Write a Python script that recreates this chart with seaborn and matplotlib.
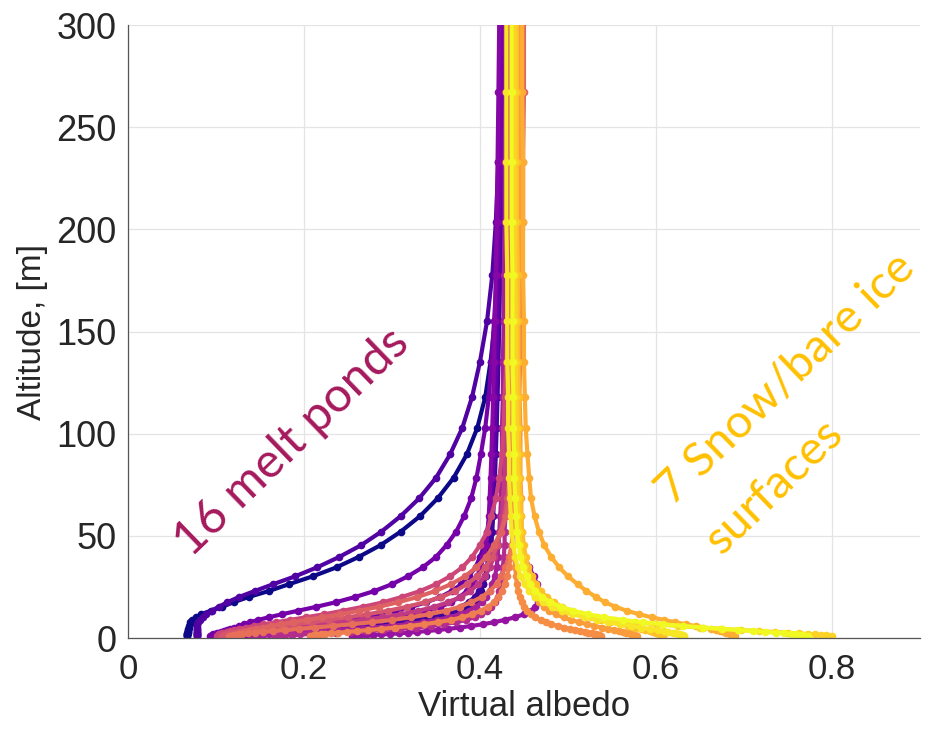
import numpy as np
import pandas as pd
import matplotlib
matplotlib.use("Agg")
import matplotlib.pyplot as plt
import seaborn as sns

# Sensor altitudes (m), shared by every profile
altitude_m = [1.00, 1.15, 1.31, 1.51, 1.73, 1.98, 2.27, 2.60, 2.98, 3.41,
              3.91, 4.48, 5.13, 5.88, 6.74, 7.73, 8.85, 10.15, 11.63, 13.33,
              15.27, 17.50, 20.06, 22.99, 26.34, 30.19, 34.60, 39.65, 45.44, 52.07,
              59.68, 68.39, 78.37, 89.82, 102.9, 117.9, 135.2, 154.9, 177.5, 203.4,
              233.1, 267.2, 306.2]

# Virtual albedo profiles over melt ponds
pond_01 = [0.067, 0.067, 0.067, 0.067, 0.067, 0.067, 0.067, 0.068, 0.068, 0.068,
           0.068, 0.068, 0.069, 0.069, 0.070, 0.071, 0.073, 0.077, 0.083, 0.094,
           0.107, 0.120, 0.137, 0.160, 0.183, 0.210, 0.237, 0.262, 0.287, 0.310,
           0.332, 0.352, 0.370, 0.385, 0.397, 0.406, 0.412, 0.417, 0.421, 0.424,
           0.426, 0.428, 0.429]
pond_02 = [0.115, 0.119, 0.125, 0.132, 0.140, 0.151, 0.164, 0.179, 0.196, 0.215,
           0.235, 0.256, 0.278, 0.298, 0.317, 0.334, 0.349, 0.362, 0.373, 0.381,
           0.388, 0.394, 0.398, 0.401, 0.404, 0.406, 0.408, 0.409, 0.410, 0.411,
           0.412, 0.413, 0.414, 0.415, 0.416, 0.417, 0.418, 0.419, 0.420, 0.421,
           0.422, 0.423, 0.424]
pond_03 = [0.119, 0.121, 0.124, 0.129, 0.134, 0.141, 0.150, 0.160, 0.173, 0.188,
           0.204, 0.223, 0.243, 0.264, 0.285, 0.305, 0.324, 0.340, 0.355, 0.368,
           0.378, 0.387, 0.394, 0.399, 0.403, 0.407, 0.409, 0.411, 0.413, 0.414,
           0.415, 0.416, 0.417, 0.418, 0.419, 0.420, 0.421, 0.422, 0.423, 0.424,
           0.425, 0.426, 0.427]
pond_04 = [0.078, 0.078, 0.078, 0.078, 0.078, 0.078, 0.078, 0.078, 0.078, 0.078,
           0.078, 0.078, 0.078, 0.078, 0.079, 0.080, 0.082, 0.085, 0.089, 0.095,
           0.103, 0.113, 0.126, 0.144, 0.165, 0.190, 0.215, 0.240, 0.265, 0.288,
           0.310, 0.331, 0.350, 0.366, 0.380, 0.391, 0.400, 0.408, 0.414, 0.418,
           0.421, 0.423, 0.424]
pond_05 = [0.103, 0.104, 0.105, 0.107, 0.109, 0.112, 0.115, 0.120, 0.125, 0.132,
           0.141, 0.152, 0.165, 0.181, 0.198, 0.217, 0.238, 0.260, 0.282, 0.303,
           0.322, 0.339, 0.355, 0.368, 0.379, 0.387, 0.395, 0.400, 0.405, 0.408,
           0.411, 0.413, 0.415, 0.416, 0.417, 0.418, 0.419, 0.420, 0.421, 0.422,
           0.423, 0.424, 0.425]
pond_06 = [0.093, 0.094, 0.095, 0.096, 0.097, 0.099, 0.101, 0.103, 0.106, 0.109,
           0.112, 0.116, 0.121, 0.126, 0.132, 0.139, 0.148, 0.160, 0.175, 0.193,
           0.214, 0.236, 0.258, 0.280, 0.300, 0.318, 0.335, 0.350, 0.362, 0.373,
           0.382, 0.390, 0.396, 0.401, 0.406, 0.410, 0.413, 0.416, 0.419, 0.421,
           0.423, 0.424, 0.425]
pond_07 = [0.125, 0.126, 0.128, 0.131, 0.134, 0.138, 0.143, 0.150, 0.158, 0.168,
           0.180, 0.194, 0.210, 0.228, 0.247, 0.267, 0.288, 0.307, 0.325, 0.341,
           0.355, 0.367, 0.377, 0.385, 0.392, 0.397, 0.401, 0.404, 0.407, 0.409,
           0.410, 0.411, 0.412, 0.413, 0.414, 0.415, 0.416, 0.417, 0.418, 0.419,
           0.420, 0.421, 0.422]
pond_08 = [0.255, 0.262, 0.270, 0.279, 0.288, 0.298, 0.308, 0.318, 0.329, 0.340,
           0.352, 0.364, 0.377, 0.390, 0.403, 0.416, 0.428, 0.440, 0.450, 0.458,
           0.463, 0.466, 0.467, 0.467, 0.465, 0.461, 0.456, 0.451, 0.447, 0.444,
           0.442, 0.440, 0.439, 0.438, 0.437, 0.437, 0.436, 0.436, 0.436, 0.435,
           0.435, 0.435, 0.435]
pond_09 = [0.141, 0.144, 0.148, 0.153, 0.160, 0.168, 0.178, 0.190, 0.204, 0.220,
           0.238, 0.257, 0.277, 0.298, 0.317, 0.335, 0.351, 0.365, 0.377, 0.387,
           0.395, 0.402, 0.407, 0.411, 0.414, 0.417, 0.419, 0.420, 0.421, 0.422,
           0.423, 0.424, 0.424, 0.425, 0.425, 0.426, 0.426, 0.427, 0.427, 0.428,
           0.428, 0.429, 0.429]
pond_10 = [0.167, 0.172, 0.178, 0.186, 0.196, 0.207, 0.221, 0.236, 0.253, 0.271,
           0.290, 0.309, 0.327, 0.344, 0.359, 0.373, 0.384, 0.394, 0.401, 0.408,
           0.413, 0.417, 0.420, 0.422, 0.424, 0.425, 0.426, 0.427, 0.428, 0.428,
           0.429, 0.429, 0.430, 0.430, 0.430, 0.431, 0.431, 0.431, 0.432, 0.432,
           0.432, 0.433, 0.433]
pond_11 = [0.104, 0.105, 0.107, 0.109, 0.112, 0.116, 0.120, 0.126, 0.134, 0.143,
           0.154, 0.168, 0.184, 0.202, 0.222, 0.243, 0.266, 0.289, 0.310, 0.330,
           0.348, 0.364, 0.378, 0.389, 0.398, 0.406, 0.411, 0.416, 0.420, 0.423,
           0.425, 0.426, 0.428, 0.429, 0.430, 0.430, 0.431, 0.431, 0.432, 0.432,
           0.433, 0.433, 0.434]
pond_12 = [0.101, 0.102, 0.102, 0.103, 0.104, 0.105, 0.107, 0.109, 0.112, 0.116,
           0.120, 0.126, 0.134, 0.143, 0.154, 0.168, 0.184, 0.202, 0.223, 0.244,
           0.267, 0.290, 0.311, 0.332, 0.350, 0.366, 0.380, 0.391, 0.400, 0.408,
           0.413, 0.418, 0.422, 0.425, 0.427, 0.428, 0.430, 0.431, 0.432, 0.433,
           0.433, 0.434, 0.434]
pond_13 = [0.107, 0.108, 0.109, 0.110, 0.112, 0.114, 0.117, 0.121, 0.125, 0.131,
           0.139, 0.148, 0.160, 0.173, 0.189, 0.208, 0.228, 0.250, 0.272, 0.295,
           0.317, 0.337, 0.356, 0.372, 0.385, 0.397, 0.406, 0.414, 0.419, 0.424,
           0.428, 0.431, 0.433, 0.434, 0.436, 0.437, 0.437, 0.438, 0.438, 0.439,
           0.439, 0.440, 0.440]
pond_14 = [0.121, 0.122, 0.122, 0.123, 0.124, 0.125, 0.127, 0.129, 0.132, 0.136,
           0.140, 0.146, 0.153, 0.163, 0.174, 0.187, 0.203, 0.221, 0.241, 0.263,
           0.285, 0.307, 0.329, 0.349, 0.367, 0.383, 0.396, 0.407, 0.416, 0.424,
           0.430, 0.434, 0.438, 0.441, 0.443, 0.444, 0.446, 0.447, 0.448, 0.449,
           0.449, 0.450, 0.450]
pond_15 = [0.115, 0.117, 0.119, 0.122, 0.126, 0.130, 0.136, 0.144, 0.153, 0.165,
           0.178, 0.194, 0.213, 0.233, 0.255, 0.277, 0.300, 0.322, 0.342, 0.361,
           0.377, 0.390, 0.402, 0.411, 0.419, 0.424, 0.429, 0.433, 0.436, 0.438,
           0.439, 0.440, 0.441, 0.441, 0.442, 0.442, 0.443, 0.443, 0.444, 0.444,
           0.444, 0.445, 0.445]
pond_16 = [0.207, 0.209, 0.211, 0.215, 0.219, 0.224, 0.231, 0.239, 0.249, 0.260,
           0.273, 0.288, 0.304, 0.320, 0.336, 0.352, 0.367, 0.380, 0.391, 0.401,
           0.409, 0.416, 0.421, 0.425, 0.428, 0.431, 0.433, 0.435, 0.436, 0.437,
           0.437, 0.438, 0.438, 0.438, 0.439, 0.439, 0.439, 0.440, 0.440, 0.440,
           0.440, 0.440, 0.440]

# Virtual albedo profiles over snow / bare ice
snow_01 = [0.537, 0.536, 0.535, 0.534, 0.532, 0.530, 0.527, 0.523, 0.519, 0.514,
           0.508, 0.502, 0.496, 0.489, 0.481, 0.475, 0.469, 0.463, 0.458, 0.454,
           0.450, 0.448, 0.445, 0.443, 0.442, 0.441, 0.440, 0.439, 0.438, 0.438,
           0.437, 0.437, 0.437, 0.437, 0.437, 0.436, 0.436, 0.436, 0.436, 0.436,
           0.436, 0.436, 0.436]
snow_02 = [0.578, 0.577, 0.576, 0.575, 0.574, 0.572, 0.569, 0.566, 0.563, 0.558,
           0.552, 0.546, 0.539, 0.530, 0.522, 0.513, 0.503, 0.495, 0.486, 0.479,
           0.473, 0.467, 0.462, 0.459, 0.456, 0.453, 0.451, 0.450, 0.449, 0.448,
           0.447, 0.447, 0.446, 0.446, 0.446, 0.445, 0.445, 0.445, 0.445, 0.445,
           0.445, 0.445, 0.445]
snow_03 = [0.690, 0.689, 0.688, 0.687, 0.686, 0.684, 0.682, 0.680, 0.677, 0.673,
           0.668, 0.662, 0.654, 0.645, 0.634, 0.622, 0.609, 0.595, 0.581, 0.567,
           0.554, 0.542, 0.532, 0.521, 0.511, 0.500, 0.490, 0.481, 0.473, 0.467,
           0.462, 0.458, 0.456, 0.454, 0.452, 0.451, 0.450, 0.450, 0.449, 0.449,
           0.449, 0.448, 0.448]
snow_04 = [0.608, 0.608, 0.607, 0.606, 0.605, 0.604, 0.602, 0.600, 0.597, 0.593,
           0.588, 0.583, 0.576, 0.568, 0.559, 0.548, 0.537, 0.526, 0.515, 0.504,
           0.493, 0.484, 0.476, 0.469, 0.464, 0.459, 0.455, 0.452, 0.450, 0.448,
           0.447, 0.446, 0.445, 0.445, 0.444, 0.444, 0.443, 0.443, 0.443, 0.442,
           0.442, 0.442, 0.442]
snow_05 = [0.800, 0.796, 0.793, 0.787, 0.781, 0.773, 0.762, 0.750, 0.735, 0.717,
           0.697, 0.674, 0.650, 0.625, 0.600, 0.576, 0.553, 0.533, 0.515, 0.500,
           0.488, 0.478, 0.469, 0.463, 0.458, 0.454, 0.450, 0.448, 0.446, 0.445,
           0.444, 0.443, 0.443, 0.442, 0.442, 0.441, 0.441, 0.441, 0.440, 0.440,
           0.440, 0.440, 0.440]
snow_06 = [0.632, 0.632, 0.631, 0.629, 0.627, 0.625, 0.622, 0.619, 0.614, 0.609,
           0.602, 0.593, 0.583, 0.572, 0.560, 0.546, 0.533, 0.519, 0.505, 0.493,
           0.482, 0.472, 0.463, 0.456, 0.451, 0.446, 0.443, 0.440, 0.438, 0.436,
           0.435, 0.434, 0.433, 0.433, 0.432, 0.432, 0.431, 0.431, 0.431, 0.430,
           0.430, 0.430, 0.430]
snow_07 = [0.773, 0.770, 0.767, 0.764, 0.759, 0.753, 0.745, 0.736, 0.724, 0.710,
           0.693, 0.675, 0.654, 0.631, 0.608, 0.585, 0.562, 0.541, 0.523, 0.506,
           0.492, 0.480, 0.471, 0.463, 0.457, 0.453, 0.449, 0.446, 0.444, 0.442,
           0.441, 0.440, 0.439, 0.439, 0.438, 0.438, 0.437, 0.437, 0.437, 0.436,
           0.436, 0.436, 0.436]

ponds = [pond_01, pond_02, pond_03, pond_04, pond_05, pond_06, pond_07, pond_08,
         pond_09, pond_10, pond_11, pond_12, pond_13, pond_14, pond_15, pond_16]
snows = [snow_01, snow_02, snow_03, snow_04, snow_05, snow_06, snow_07]

x_ticks = [0, 0.2, 0.4, 0.6, 0.8]
x_tick_labels = ["0", "0.2", "0.4", "0.6", "0.8"]
y_ticks = [0, 50, 100, 150, 200, 250, 300]

frames = []
for idx, profile in enumerate(ponds + snows):
    frames.append(pd.DataFrame({"profile": f"p{idx:02d}",
                                "albedo": profile,
                                "altitude": altitude_m}))
df = pd.concat(frames, ignore_index=True)

sns.set_theme(style="white")
plt.rcParams["font.family"] = ["Liberation Sans", "DejaVu Sans"]

fig = plt.figure(figsize=(9.3, 7.31), dpi=100)
ax = fig.add_axes([0.1376, 0.1272, 0.8516, 0.8386])

n_profiles = len(ponds) + len(snows)
palette = [matplotlib.colormaps["plasma"](v) for v in np.linspace(0, 1, n_profiles)]

sns.lineplot(data=df, x="albedo", y="altitude", hue="profile", palette=palette,
             sort=False, estimator=None, marker="o", markersize=5.5,
             markeredgewidth=0, linewidth=3.0, legend=False, ax=ax)

ax.set_xlim(0, 0.9)
ax.set_ylim(0, 300)
ax.set_xticks(x_ticks)
ax.set_yticks(y_ticks)
ax.set_xticklabels(x_tick_labels)
ax.tick_params(axis="x", labelsize=25, pad=11)
ax.tick_params(axis="y", labelsize=26, pad=8)
ax.tick_params(direction="in", length=5, width=0.8, colors="#262626")
ax.set_xlabel("Virtual albedo", fontsize=25, color="#262626", labelpad=3)
ax.set_ylabel("Altitude, [m]", fontsize=24, color="#262626", labelpad=6)

ax.grid(True, color="#e4e4e4", linewidth=0.9)
ax.set_axisbelow(True)
for side in ("top", "right"):
    ax.spines[side].set_visible(False)
for side in ("left", "bottom"):
    ax.spines[side].set_color("#555555")
    ax.spines[side].set_linewidth(0.9)

label_font = ["Lato", "DejaVu Sans"]
ax.text(0.186, 96, "16 melt ponds", rotation=44, rotation_mode="anchor",
        ha="center", va="center", color="#a5195c", fontsize=35, family=label_font)
ax.text(0.747, 127, "7 Snow/bare ice", rotation=44, rotation_mode="anchor",
        ha="center", va="center", color="#ffc000", fontsize=34, family=label_font)
ax.text(0.735, 74, "surfaces", rotation=44, rotation_mode="anchor",
        ha="center", va="center", color="#ffc000", fontsize=34, family=label_font)

fig.savefig("out.png", dpi=100)
